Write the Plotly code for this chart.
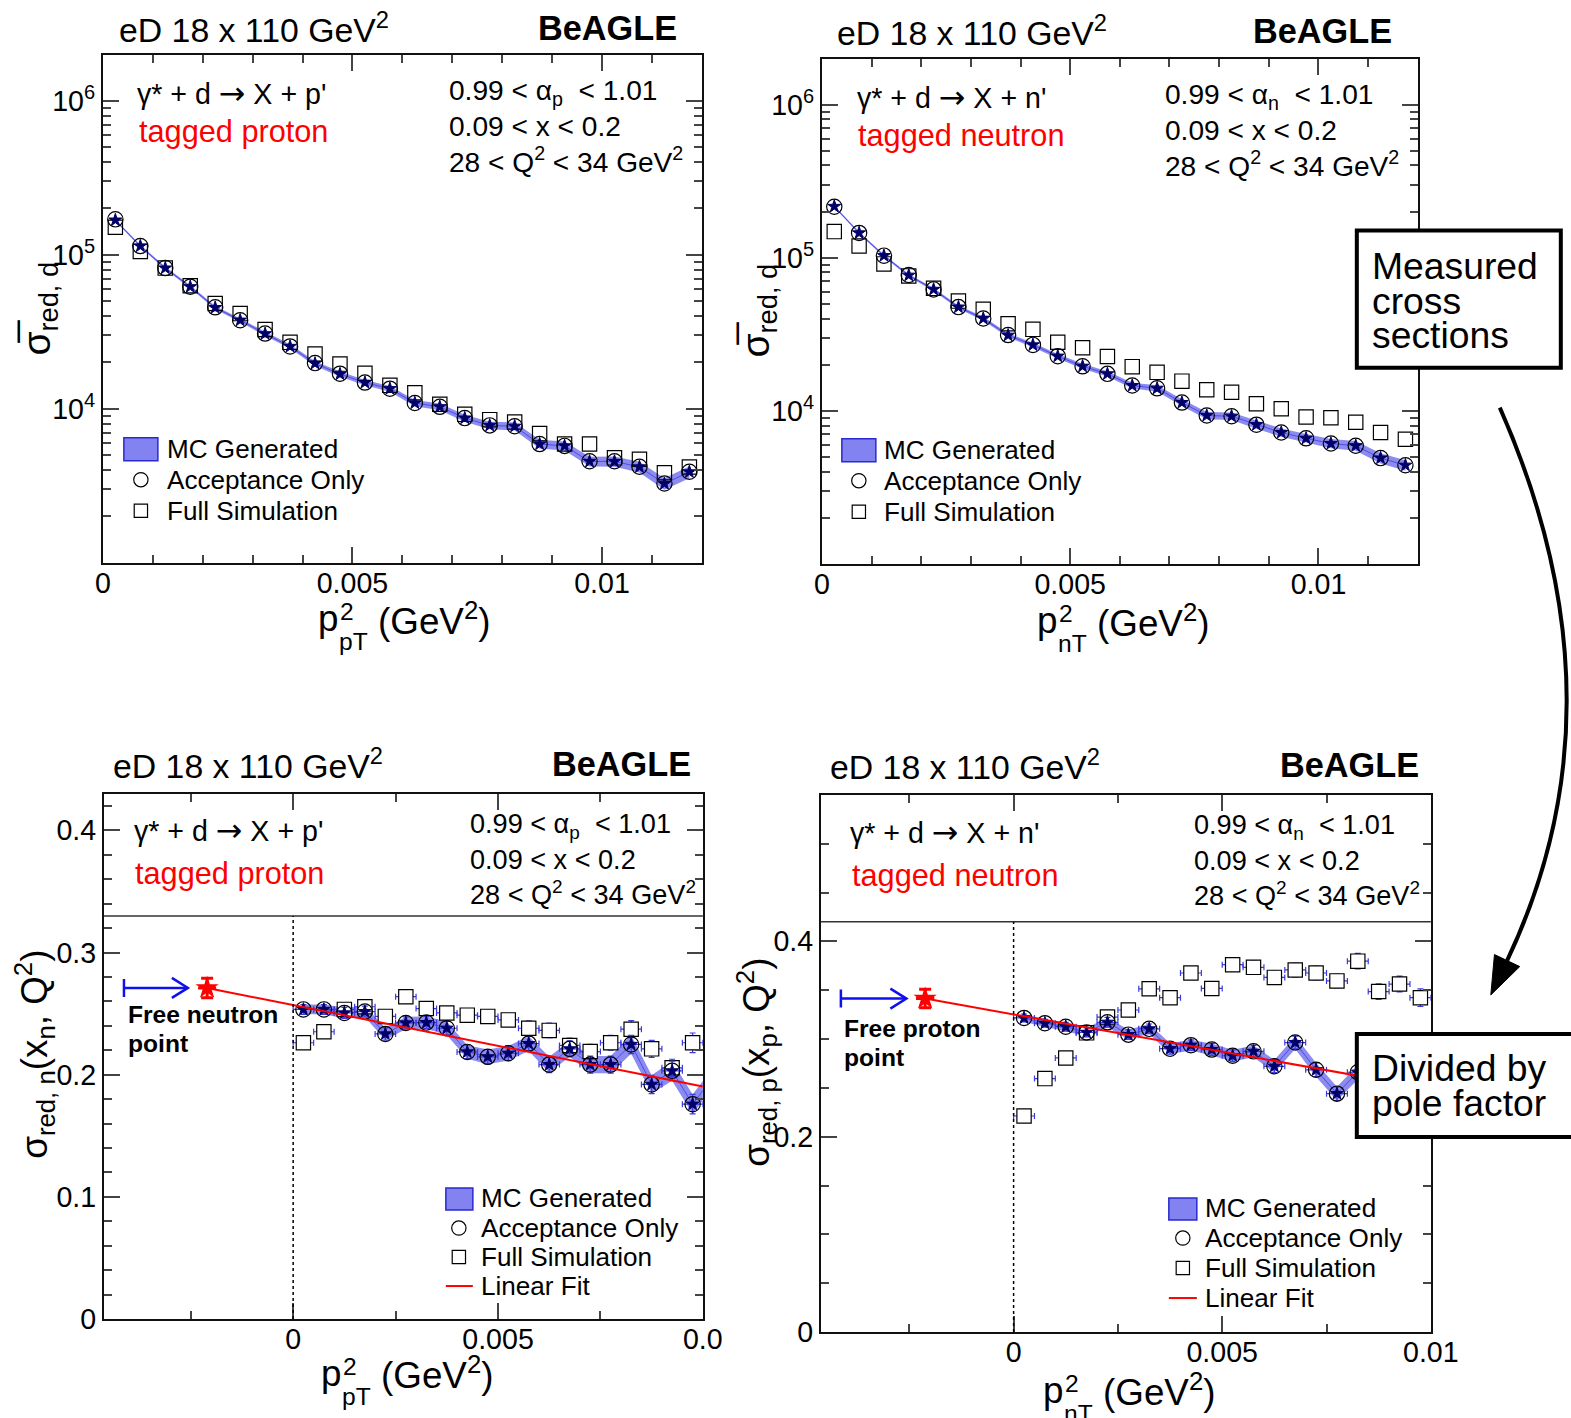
import plotly.graph_objects as go

# Target picture is 1571 x 1418.  The capture maps page pixels to picture pixels as
#   pic_x = SX * page_x + AX ,  pic_y = SY * page_y + AY   (measured),
# and the plot div sits at the default 8px body margin.  All positions below are
# given in picture pixels and converted through this map.
SX, AX = 0.9774, -1.7
SY, AY = 0.9883, -9.4
MARGIN = 8
FW, FH = 1590, 1418          # plot div size (page pixels)
K = 1 / SX                   # size compensation for fonts / markers
FONT = "Liberation Sans, Arial, Helvetica, sans-serif"

# ======================= DATA =======================
# bin centres in p_T^2 (GeV^2)
pt2_bins = [0.00025, 0.00075, 0.00125, 0.00175, 0.00225, 0.00275, 0.00325, 0.00375,
            0.00425, 0.00475, 0.00525, 0.00575, 0.00625, 0.00675, 0.00725, 0.00775,
            0.00825, 0.00875, 0.00925, 0.00975, 0.01025, 0.01075, 0.01125, 0.01175]

# --- top-left: tagged proton, reduced cross section sigma_red,d ---
tl_mc = [1.68e5, 1.14e5, 8.2e4, 6.2e4, 4.54e4, 3.76e4, 3.07e4, 2.54e4, 1.97e4, 1.68e4,
         1.48e4, 1.35e4, 1.09e4, 1.03e4, 8.7e3, 7.8e3, 7.7e3, 5.9e3, 5.74e3, 4.55e3,
         4.55e3, 4.19e3, 3.26e3, 3.89e3]
tl_mc_relerr = [0.015, 0.018, 0.02, 0.022, 0.025, 0.027, 0.03, 0.032, 0.035, 0.038, 0.04, 0.043,
                0.047, 0.05, 0.053, 0.056, 0.06, 0.065, 0.068, 0.072, 0.075, 0.08, 0.085, 0.09]
tl_acc = [1.70e5, 1.14e5, 8.2e4, 6.2e4, 4.56e4, 3.76e4, 3.08e4, 2.54e4, 1.98e4, 1.69e4,
          1.48e4, 1.35e4, 1.09e4, 1.03e4, 8.7e3, 7.8e3, 7.7e3, 5.9e3, 5.74e3, 4.56e3,
          4.56e3, 4.2e3, 3.27e3, 3.9e3]
tl_full = [1.51e5, 1.05e5, 8.2e4, 6.3e4, 4.83e4, 4.15e4, 3.27e4, 2.7e4, 2.27e4, 1.95e4,
           1.70e4, 1.42e4, 1.27e4, 1.07e4, 9.2e3, 8.5e3, 8.2e3, 6.9e3, 5.9e3, 5.9e3,
           4.8e3, 4.7e3, 3.84e3, 4.19e3]

# --- top-right: tagged neutron ---
tr_mc = [2.16e5, 1.45e5, 1.03e5, 7.67e4, 6.2e4, 4.75e4, 4.0e4, 3.11e4, 2.69e4, 2.27e4,
         1.95e4, 1.74e4, 1.46e4, 1.40e4, 1.13e4, 9.3e3, 9.2e3, 8.1e3, 7.2e3, 6.6e3,
         6.1e3, 5.9e3, 4.9e3, 4.4e3]
tr_mc_relerr = [0.015, 0.017, 0.019, 0.021, 0.023, 0.025, 0.028, 0.03, 0.033, 0.035, 0.038, 0.04,
                0.043, 0.046, 0.05, 0.053, 0.056, 0.06, 0.063, 0.066, 0.07, 0.073, 0.077, 0.08]
tr_acc = [2.15e5, 1.45e5, 1.03e5, 7.7e4, 6.2e4, 4.75e4, 4.0e4, 3.12e4, 2.69e4, 2.27e4,
          1.95e4, 1.74e4, 1.46e4, 1.40e4, 1.13e4, 9.3e3, 9.2e3, 8.1e3, 7.2e3, 6.6e3,
          6.1e3, 5.9e3, 4.9e3, 4.4e3]
tr_full = [1.48e5, 1.19e5, 9.1e4, 7.6e4, 6.3e4, 5.2e4, 4.6e4, 3.7e4, 3.4e4, 2.8e4,
           2.58e4, 2.26e4, 1.94e4, 1.78e4, 1.56e4, 1.37e4, 1.32e4, 1.11e4, 1.03e4, 9.1e3,
           9.0e3, 8.4e3, 7.2e3, 6.5e3]

# --- bottom-left: divided by pole factor, sigma_red,n(x_n,Q^2) ---
bl_mc = [0.2535, 0.2535, 0.2506, 0.2517, 0.2334, 0.2424, 0.2427, 0.2381, 0.2187, 0.2147,
         0.2176, 0.2255, 0.2083, 0.2212, 0.2083, 0.2083, 0.2248, 0.1921, 0.2032, 0.1759, 0.198]
bl_mc_err = [0.004, 0.004, 0.0045, 0.0045, 0.005, 0.005, 0.005, 0.0055, 0.0055, 0.006, 0.006,
             0.006, 0.0065, 0.0065, 0.007, 0.007, 0.0075, 0.0075, 0.008, 0.008, 0.008]
bl_acc = [0.2535, 0.2535, 0.2506, 0.2517, 0.2334, 0.2424, 0.2427, 0.2381, 0.2187, 0.2147,
          0.2176, 0.2255, 0.2083, 0.2212, 0.2083, 0.2083, 0.2248, 0.1921, 0.2032, 0.1759]
bl_full = [0.2262, 0.2352, 0.2535, 0.2557, 0.2478, 0.2639, 0.2542, 0.2506, 0.2488, 0.2478,
           0.2449, 0.2381, 0.2363, 0.2240, 0.2190, 0.2262, 0.2373, 0.2212, 0.2057, 0.2262]
bl_full_err = [0.004, 0.004, 0.004, 0.004, 0.004, 0.005, 0.005, 0.005, 0.005, 0.005,
               0.005, 0.006, 0.006, 0.006, 0.006, 0.006, 0.007, 0.007, 0.007, 0.008]
bl_fit_x = [-0.0021, 0.01]
bl_fit_y = [0.2711, 0.1903]
bl_free_x = [-0.0021]
bl_free_y = [0.2711]
bl_arrow_x = [-0.00413, -0.00257]

# --- bottom-right: sigma_red,p(x_p,Q^2) ---
br_mc = [0.3216, 0.3162, 0.3126, 0.3068, 0.3171, 0.3045, 0.3104, 0.2901, 0.2937, 0.2892,
         0.2829, 0.2874, 0.2721, 0.2964, 0.2685, 0.2441, 0.266, 0.27, 0.262, 0.258]
br_mc_err = [0.004, 0.004, 0.0045, 0.0045, 0.005, 0.005, 0.005, 0.0055, 0.0055, 0.006,
             0.006, 0.006, 0.0065, 0.0065, 0.007, 0.007, 0.0075, 0.0075, 0.008, 0.008]
br_acc = [0.3216, 0.3162, 0.3126, 0.3068, 0.3171, 0.3045, 0.3104, 0.2901, 0.2937, 0.2892,
          0.2829, 0.2874, 0.2721, 0.2964, 0.2685, 0.2441, 0.266, 0.27, 0.262, 0.258]
br_full = [0.2212, 0.2595, 0.2806, 0.3063, 0.3225, 0.3297, 0.3514, 0.3423, 0.3676, 0.3518,
           0.3761, 0.3734, 0.3631, 0.3707, 0.3676, 0.3595, 0.3797, 0.3486, 0.3563, 0.3423]
br_full_err = [0.004, 0.004, 0.005, 0.005, 0.005, 0.005, 0.006, 0.006, 0.006, 0.006,
               0.006, 0.007, 0.007, 0.007, 0.007, 0.007, 0.008, 0.008, 0.008, 0.009]
br_fit_x = [-0.00212, 0.01]
br_fit_y = [0.3414, 0.2490]
br_free_x = [-0.00212]
br_free_y = [0.3414]
br_arrow_x = [-0.00414, -0.00257]

bin_half_width = 0.00025

legend_labels = ["MC Generated", "Acceptance Only", "Full Simulation", "Linear Fit"]

# ======================= STYLE / GEOMETRY =======================
BAND = "rgba(100,100,235,0.75)"
BAND_LINE = "rgba(70,70,235,0.9)"
STAR = "#000066"
ERRC = "#3a3ae0"


def f(v):
    return round(v * K, 1)


ARROW = '<span style="font-family:DejaVu Sans;font-size:%.1fpx">→</span>' % f(31)


def px(X):
    """picture pixel x -> paper fraction of the plot div"""
    return ((X - AX) / SX - MARGIN) / FW


def py(Y):
    return 1 - ((Y - AY) / SY - MARGIN) / FH


PANELS = {
    "TL": dict(xa="x", ya="y", frame=(101, 53, 700, 561), xr=[0, 0.012], yr=[3, 6.301]),
    "TR": dict(xa="x2", ya="y2", frame=(820, 57, 1416, 562), xr=[0, 0.012], yr=[3, 6.301]),
    "BL": dict(xa="x3", ya="y3", frame=(102, 792, 701, 1317), xr=[-0.00462, 0.01], yr=[0, 0.43]),
    "BR": dict(xa="x4", ya="y4", frame=(819, 793, 1429, 1330), xr=[-0.00462, 0.01], yr=[0, 0.55]),
}

fig = go.Figure()


def add_band(xa, ya, x, lo, hi):
    fig.add_trace(go.Scatter(x=list(x) + list(x)[::-1], y=list(hi) + list(lo)[::-1],
                             fill="toself", fillcolor=BAND, line=dict(width=0, color=BAND),
                             mode="lines", xaxis=xa, yaxis=ya, hoverinfo="skip"))
    fig.add_trace(go.Scatter(x=x, y=[(a + b) / 2 for a, b in zip(lo, hi)], mode="lines",
                             line=dict(color=BAND_LINE, width=1), xaxis=xa, yaxis=ya,
                             hoverinfo="skip"))


def add_points(xa, ya, x, y, kind, err=None, filled=False):
    sym = {"star": "star", "circle": "circle-open", "square": "square-open"}[kind]
    if filled and kind == "square":
        sym = "square"
    size = f({"star": 9.5, "circle": 15, "square": 14}[kind])
    color = STAR if kind == "star" else ("white" if filled else "black")
    lcolor = STAR if kind == "star" else "black"
    kw = {}
    if err is not None:
        kw["error_x"] = dict(type="constant", value=bin_half_width, color=ERRC, thickness=1.2, width=3)
        kw["error_y"] = dict(type="data", array=err, color=ERRC, thickness=1.2, width=3)
    fig.add_trace(go.Scatter(x=x, y=y, mode="markers",
                             marker=dict(symbol=sym, size=size, color=color,
                                         line=dict(width=1.0 if kind == "star" else 1.2, color=lcolor)),
                             xaxis=xa, yaxis=ya, hoverinfo="skip", **kw))


# ---- top panels ----
for key, mc, rel, acc, full in (("TL", tl_mc, tl_mc_relerr, tl_acc, tl_full),
                                ("TR", tr_mc, tr_mc_relerr, tr_acc, tr_full)):
    p = PANELS[key]
    lo = [v * (1 - r) for v, r in zip(mc, rel)]
    hi = [v * (1 + r) for v, r in zip(mc, rel)]
    add_band(p["xa"], p["ya"], pt2_bins, lo, hi)
    add_points(p["xa"], p["ya"], pt2_bins, full, "square")
    add_points(p["xa"], p["ya"], pt2_bins, acc, "circle")
    add_points(p["xa"], p["ya"], pt2_bins, mc, "star")

# ---- bottom panels ----
for key, mc, mcerr, acc, full, ferr, fx, fy, frx, fry in (
        ("BL", bl_mc, bl_mc_err, bl_acc, bl_full, bl_full_err, bl_fit_x, bl_fit_y, bl_free_x, bl_free_y),
        ("BR", br_mc, br_mc_err, br_acc, br_full, br_full_err, br_fit_x, br_fit_y, br_free_x, br_free_y)):
    p = PANELS[key]
    xs = pt2_bins[:len(mc)]
    lo = [v - e for v, e in zip(mc, mcerr)]
    hi = [v + e for v, e in zip(mc, mcerr)]
    add_band(p["xa"], p["ya"], xs, lo, hi)
    add_points(p["xa"], p["ya"], pt2_bins[:len(full)], full, "square", ferr, filled=True)
    add_points(p["xa"], p["ya"], pt2_bins[:len(acc)], acc, "circle", mcerr[:len(acc)])
    add_points(p["xa"], p["ya"], pt2_bins[:len(acc)], acc, "star")
    fig.add_trace(go.Scatter(x=fx, y=fy, mode="lines", line=dict(color="red", width=2),
                             xaxis=p["xa"], yaxis=p["ya"], hoverinfo="skip"))
    fig.add_trace(go.Scatter(x=frx, y=fry, mode="markers",
                             marker=dict(symbol="star", size=f(17), color="red"),
                             error_x=dict(type="constant", value=0.00022, color="red", thickness=3, width=0),
                             error_y=dict(type="constant", value=0.008 if key == "BL" else 0.0095,
                                          color="red", thickness=3, width=6),
                             xaxis=p["xa"], yaxis=p["ya"], hoverinfo="skip"))

# ======================= AXES =======================
def axis_base():
    return dict(showline=True, linecolor="#111", linewidth=2, mirror="allticks", ticks="inside",
                tickcolor="#444", tickwidth=1.5, ticklen=16, showgrid=False, zeroline=False,
                tickfont=dict(family=FONT, size=f(28), color="black"), fixedrange=True)


def minor(vals):
    return dict(tickmode="array", tickvals=vals, ticks="inside", ticklen=8,
                tickcolor="#444", tickwidth=1.5)


layout_axes = {}
names = {"TL": ("xaxis", "yaxis"), "TR": ("xaxis2", "yaxis2"),
         "BL": ("xaxis3", "yaxis3"), "BR": ("xaxis4", "yaxis4")}
for key, (xn, yn) in names.items():
    p = PANELS[key]
    l, t, r, b = p["frame"]
    xa = axis_base()
    ya = axis_base()
    xa.update(domain=[px(l), px(r)], range=p["xr"], anchor=p["ya"], tickmode="array")
    ya.update(domain=[py(b), py(t)], range=p["yr"], anchor=p["xa"], tickmode="array")
    if key in ("TL", "TR"):
        xa.update(tickvals=[0, 0.005, 0.01], ticktext=["0", "0.005", "0.01"],
                  minor=minor([k / 1000 for k in range(1, 12) if k not in (5, 10)]))
        ya.update(type="log", tickvals=[1e4, 1e5, 1e6],
                  ticktext=["10<sup>4</sup>", "10<sup>5</sup>", "10<sup>6</sup>"],
                  minor=minor([m * 10 ** e for e in (3, 4, 5) for m in range(2, 10)]))
    else:
        xa.update(tickvals=[0, 0.005, 0.01],
                  ticktext=["0", "0.005", "0.0" if key == "BL" else "0.01"],
                  minor=minor([-0.0025, 0.0025, 0.0075]))
        if key == "BL":
            ya.update(tickvals=[0, 0.1, 0.2, 0.3, 0.4], ticktext=["0", "0.1", "0.2", "0.3", "0.4"],
                      minor=minor([k / 100 for k in range(2, 43, 2) if k % 10 != 0]))
        else:
            ya.update(tickvals=[0, 0.2, 0.4], ticktext=["0", "0.2", "0.4"],
                      minor=minor([0.05, 0.1, 0.15, 0.25, 0.3, 0.35, 0.45, 0.5]))
    layout_axes[xn] = xa
    layout_axes[yn] = ya

# overlay axis in picture-pixel units for legend glyphs
x_lo = MARGIN * SX + AX
x_hi = (MARGIN + FW) * SX + AX
y_top = MARGIN * SY + AY
y_bot = (MARGIN + FH) * SY + AY
layout_axes["xaxis5"] = dict(domain=[0, 1], range=[x_lo, x_hi], visible=False, anchor="y5", fixedrange=True)
layout_axes["yaxis5"] = dict(domain=[0, 1], range=[y_bot, y_top], visible=False, anchor="x5", fixedrange=True)

# ======================= LEGENDS =======================
shapes = []
annotations = []


def txt(x, y, text, size, color="black", xanchor="left", angle=0, yanchor="middle"):
    annotations.append(dict(x=px(x), y=py(y), xref="paper", yref="paper", text=text,
                            showarrow=False, xanchor=xanchor, yanchor=yanchor, textangle=angle,
                            font=dict(family=FONT, size=f(size), color=color)))


LEG = {
    "TL": dict(sx=139, rows=[447, 478, 509], tx=163, box=(122, 436, 156, 459), fit=False),
    "TR": dict(sx=857, rows=[448, 479, 510], tx=880, box=(840, 437, 874, 460), fit=False),
    "BL": dict(sx=457, rows=[1196, 1226, 1255, 1284], tx=477, box=(444, 1186, 471, 1208), fit=True),
    "BR": dict(sx=1181, rows=[1206, 1236, 1266, 1296], tx=1201, box=(1167, 1196, 1195, 1218), fit=True),
}
for key, g in LEG.items():
    l, t, r, b = g["box"]
    shapes.append(dict(type="rect", xref="paper", yref="paper", x0=px(l), x1=px(r), y0=py(b), y1=py(t),
                       fillcolor="#8282f0", line=dict(color="#2a2ad0", width=1.5)))
    for kind, row in zip(("star", "circle", "square"), g["rows"]):
        sym = {"star": "star", "circle": "circle-open", "square": "square-open"}[kind]
        size = f({"star": 10, "circle": 14, "square": 13}[kind])
        fig.add_trace(go.Scatter(x=[g["sx"]], y=[row], mode="markers", xaxis="x5", yaxis="y5",
                                 marker=dict(symbol=sym, size=size, color="black",
                                             line=dict(width=1.2, color="black")),
                                 hoverinfo="skip"))
    n = 4 if g["fit"] else 3
    for lab, row in zip(legend_labels[:n], g["rows"]):
        txt(g["tx"], row, lab, 25.5)
    if g["fit"]:
        shapes.append(dict(type="line", xref="paper", yref="paper", x0=px(l), x1=px(r),
                           y0=py(g["rows"][3]), y1=py(g["rows"][3]), line=dict(color="red", width=2)))

# ======================= TEXT =======================
for x, xr_, y in ((115, 677, 26), (833, 1392, 29), (109, 691, 762), (826, 1419, 763)):
    txt(x, y, "eD 18 x 110 GeV<sup>2</sup>", 33)
    txt(xr_, y, "<b>BeAGLE</b>", 33.5, xanchor="right")

for (x1, y1, tag_x, tag_y, tag, part, xr1, yr1, sub, fs) in (
        (133, 91, 135, 130, "tagged proton", "p'", 445, 91, "p", 27.5),
        (853, 95, 854, 134, "tagged neutron", "n'", 1161, 95, "n", 27.5),
        (130, 828, 131, 872, "tagged proton", "p'", 466, 824, "p", 26.5),
        (846, 830, 848, 874, "tagged neutron", "n'", 1190, 825, "n", 26.5)):
    txt(x1, y1, "γ* + d " + ARROW + " X + " + part, 28)
    txt(tag_x, tag_y, tag, 30, color="red")
    txt(xr1, yr1, "0.99 &lt; α<sub>" + sub + "</sub> &nbsp;&lt; 1.01", fs)
    txt(xr1, yr1 + 34, "0.09 &lt; x &lt; 0.2", fs)
    txt(xr1, yr1 + 67, "28 &lt; Q<sup>2</sup> &lt; 34 GeV<sup>2</sup>", fs)

txt(124, 1013, "<b>Free neutron</b>", 24)
txt(124, 1042, "<b>point</b>", 24)
txt(840, 1027, "<b>Free proton</b>", 24)
txt(840, 1056, "<b>point</b>", 24)

# axis titles (x): p with stacked super/subscript
for (x, y, sub) in ((314, 617, "pT"), (1033, 619, "nT"), (317, 1371, "pT"), (1039, 1388, "nT")):
    txt(x, y, "p", 36)
    txt(x + 22, y - 7, "2", 24)
    txt(x + 21, y + 23, sub, 24)
    txt(x + 60, y, "(GeV<sup>2</sup>)", 36)

# axis titles (y)
txt(38, 307, "σ\u0305<sub>red, d</sub>", 38, xanchor="center", angle=-90)
txt(757, 309, "σ\u0305<sub>red, d</sub>", 38, xanchor="center", angle=-90)
txt(33, 1052, "σ<sub>red, n</sub>(x<sub>n</sub>, Q<sup>2</sup>)", 36, xanchor="center", angle=-90)
txt(755, 1060, "σ<sub>red, p</sub>(x<sub>p</sub>, Q<sup>2</sup>)", 36, xanchor="center", angle=-90)

# ======================= SHAPES (panel decorations) =======================
for key, ysep, arrow_x, free_y in (("BL", 0.33, bl_arrow_x, bl_free_y[0]),
                                   ("BR", 0.42, br_arrow_x, br_free_y[0])):
    p = PANELS[key]
    l, t, r, b = p["frame"]
    dxpp = (p["xr"][1] - p["xr"][0]) / (r - l)
    dypp = (p["yr"][1] - p["yr"][0]) / (b - t)
    xa, ya = p["xa"], p["ya"]
    shapes.append(dict(type="line", xref=xa + " domain", yref=ya, x0=0, x1=1, y0=ysep, y1=ysep,
                       line=dict(color="#333", width=1.5)))
    shapes.append(dict(type="line", xref=xa, yref=ya, x0=0, x1=0, y0=0, y1=ysep,
                       line=dict(color="black", width=1.5, dash="dot")))
    a0, a1 = arrow_x
    blue = "#1010ee"
    shapes.append(dict(type="line", xref=xa, yref=ya, x0=a0, x1=a1, y0=free_y, y1=free_y,
                       line=dict(color=blue, width=2.5)))
    shapes.append(dict(type="line", xref=xa, yref=ya, x0=a0, x1=a0, y0=free_y - 9 * dypp,
                       y1=free_y + 9 * dypp, line=dict(color=blue, width=2.5)))
    shapes.append(dict(type="path", xref=xa, yref=ya,
                       path=f"M {a1 - 16 * dxpp},{free_y + 10 * dypp} L {a1},{free_y} "
                            f"L {a1 - 16 * dxpp},{free_y - 10 * dypp}",
                       line=dict(color=blue, width=2.5)))

# text boxes on the right
for (l, t, r, b) in ((1355, 229, 1559, 366), (1355, 1032, 1575, 1135)):
    shapes.append(dict(type="rect", xref="paper", yref="paper", x0=px(l), x1=px(r), y0=py(b), y1=py(t),
                       fillcolor="white", line=dict(color="black", width=4), layer="above"))
txt(1368, 264, "Measured", 36.5)
txt(1368, 299, "cross", 36.5)
txt(1368, 333, "sections", 36.5)
txt(1368, 1066, "Divided by", 36.5)
txt(1368, 1101, "pole factor", 36.5)

# curved arrow between the two boxes
P0 = (1498, 406)
C = (1628, 700)
tip = (1489, 993)
head_len, head_half = 38, 14
dx, dy = tip[0] - C[0], tip[1] - C[1]
norm = (dx * dx + dy * dy) ** 0.5
ux, uy = dx / norm, dy / norm
B = (tip[0] - ux * head_len, tip[1] - uy * head_len)
shapes.append(dict(type="path", xref="paper", yref="paper",
                   path=f"M {px(P0[0])},{py(P0[1])} Q {px(C[0])},{py(C[1])} {px(B[0])},{py(B[1])}",
                   line=dict(color="black", width=4), layer="above"))
b1 = (B[0] + uy * head_half, B[1] - ux * head_half)
b2 = (B[0] - uy * head_half, B[1] + ux * head_half)
shapes.append(dict(type="path", xref="paper", yref="paper",
                   path=f"M {px(tip[0])},{py(tip[1])} L {px(b1[0])},{py(b1[1])} "
                        f"L {px(b2[0])},{py(b2[1])} Z",
                   fillcolor="black", line=dict(color="black", width=1), layer="above"))

fig.update_layout(width=FW, height=FH, autosize=False, margin=dict(l=0, r=0, t=0, b=0, pad=0),
                  paper_bgcolor="white", plot_bgcolor="rgba(0,0,0,0)", showlegend=False,
                  font=dict(family=FONT, color="black"),
                  shapes=shapes, annotations=annotations, **layout_axes)

# pull the x tick labels a little closer to the frame (as in the reference)
try:
    fig.update_layout(xaxis_ticklabelstandoff=-6, xaxis2_ticklabelstandoff=-6,
                      xaxis3_ticklabelstandoff=-6, xaxis4_ticklabelstandoff=-6)
except Exception:
    pass

fig.write_html("out.html", config={"responsive": False, "displayModeBar": False})
